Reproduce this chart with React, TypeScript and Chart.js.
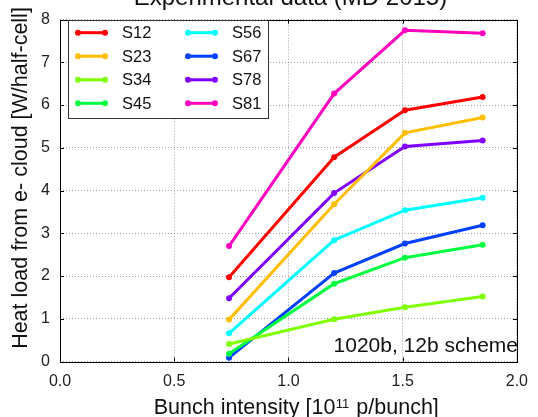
import React, { useEffect, useRef } from "react";
import { Chart, registerables } from "chart.js";

Chart.register(...registerables);

// ---- data ----
const intensities = [0.74, 1.2, 1.51, 1.85];
const sectorNames = ["S12", "S23", "S34", "S45", "S56", "S67", "S78", "S81"];
const s12 = [1.97, 4.78, 5.88, 6.19];
const s23 = [0.98, 3.68, 5.35, 5.71];
const s34 = [0.41, 0.99, 1.27, 1.52];
const s45 = [0.18, 1.82, 2.43, 2.73];
const s56 = [0.66, 2.84, 3.54, 3.83];
const s67 = [0.09, 2.07, 2.76, 3.19];
const s78 = [1.48, 3.94, 5.03, 5.17];
const s81 = [2.7, 6.27, 7.75, 7.68];
const sectorValues = [s12, s23, s34, s45, s56, s67, s78, s81];
const sectorColors = ["#ff0000", "#ffbf00", "#80ff00", "#00ff40", "#00ffff", "#0040ff", "#8000ff", "#ff00bf"];

const titleText = "Experimental data (MD 2015)";
const yTitle = "Heat load from e- cloud [W/half-cell]";
const xTitleA = "Bunch intensity [10";
const xTitleSup = "11";
const xTitleB = " p/bunch]";
const noteText = "1020b, 12b scheme";

const FONT = "'Liberation Sans', Arial, Helvetica, sans-serif";

const decorPlugin = {
  id: "decor",
  afterDraw(chart: any) {
    const { ctx, chartArea } = chart;
    const { left, right, top, bottom } = chartArea;
    const xs = chart.scales.x;
    const ys = chart.scales.y;
    ctx.save();
    // frame
    ctx.strokeStyle = "#000";
    ctx.lineWidth = 1;
    ctx.strokeRect(Math.round(left) + 0.5, Math.round(top) + 0.5, Math.round(right - left), Math.round(bottom - top));
    // inward ticks
    ctx.beginPath();
    [0.5, 1, 1.5].forEach((v) => {
      const px = Math.round(xs.getPixelForValue(v)) + 0.5;
      ctx.moveTo(px, bottom);
      ctx.lineTo(px, bottom - 4);
      ctx.moveTo(px, top);
      ctx.lineTo(px, top + 4);
    });
    [1, 2, 3, 4, 5, 6, 7].forEach((v) => {
      const py = Math.round(ys.getPixelForValue(v)) + 0.5;
      ctx.moveTo(left, py);
      ctx.lineTo(left + 4, py);
      ctx.moveTo(right, py);
      ctx.lineTo(right - 4, py);
    });
    ctx.stroke();

    // legend
    const lx = 68, ly = 20, lw = 200, lh = 98;
    ctx.fillStyle = "#fff";
    ctx.fillRect(lx, ly, lw, lh);
    ctx.strokeStyle = "#333";
    ctx.strokeRect(lx + 0.5, ly + 0.5, lw, lh);
    const rowsY = [32.7, 56.2, 79.8, 103.3];
    const colX = [78, 188];
    ctx.font = `16.5px ${FONT}`;
    ctx.textBaseline = "middle";
    ctx.textAlign = "left";
    sectorNames.forEach((name, i) => {
      const col = Math.floor(i / 4);
      const row = i % 4;
      const x0 = colX[col];
      const y = rowsY[row];
      ctx.strokeStyle = sectorColors[i];
      ctx.lineWidth = 3;
      ctx.beginPath();
      ctx.moveTo(x0, y);
      ctx.lineTo(x0 + 27, y);
      ctx.stroke();
      ctx.fillStyle = sectorColors[i];
      [x0, x0 + 27].forEach((cx) => {
        ctx.beginPath();
        ctx.arc(cx, y, 3, 0, Math.PI * 2);
        ctx.fill();
      });
      ctx.fillStyle = "#111";
      ctx.fillText(name, x0 + 44, y + 1);
    });

    // annotation
    ctx.font = `21px ${FONT}`;
    ctx.textAlign = "right";
    ctx.textBaseline = "alphabetic";
    ctx.fillStyle = "#111";
    ctx.fillText(noteText, 518, 352);

    // title (clipped at top)
    ctx.font = `24px ${FONT}`;
    ctx.textAlign = "center";
    ctx.fillText(titleText, (left + right) / 2 + 2, 4.5);

    // y title
    ctx.save();
    ctx.translate(26.5, 178);
    ctx.rotate(-Math.PI / 2);
    ctx.font = `21.5px ${FONT}`;
    ctx.textAlign = "center";
    ctx.textBaseline = "alphabetic";
    ctx.fillText(yTitle, 0, 0);
    ctx.restore();

    // x title with superscript
    const mainFont = `21.5px ${FONT}`;
    const supFont = `13px ${FONT}`;
    ctx.font = mainFont;
    const wA = ctx.measureText(xTitleA).width;
    const wB = ctx.measureText(xTitleB).width;
    ctx.font = supFont;
    const wS = ctx.measureText(xTitleSup).width + 1;
    const total = wA + wS + wB;
    let cx = 296 - total / 2;
    const base = 413.5;
    ctx.textAlign = "left";
    ctx.textBaseline = "alphabetic";
    ctx.font = mainFont;
    ctx.fillText(xTitleA, cx, base);
    cx += wA + 0.5;
    ctx.font = supFont;
    ctx.fillText(xTitleSup, cx, base - 6);
    cx += wS;
    ctx.font = mainFont;
    ctx.fillText(xTitleB, cx, base);
    ctx.restore();
  },
};

export default function App() {
  const ref = useRef<HTMLCanvasElement | null>(null);
  useEffect(() => {
    if (!ref.current) return;
    const chart = new Chart(ref.current, {
      type: "line",
      data: {
        datasets: sectorNames.map((name, i) => ({
          label: name,
          data: intensities.map((x, j) => ({ x, y: sectorValues[i][j] })),
          borderColor: sectorColors[i],
          backgroundColor: sectorColors[i],
          borderWidth: 3,
          pointRadius: 3,
          pointBorderWidth: 0,
          pointBackgroundColor: sectorColors[i],
          tension: 0,
          fill: false,
        })),
      },
      options: {
        responsive: false,
        animation: false,
        events: [],
        layout: { padding: { top: 12, right: 14, left: 0, bottom: 0 } },
        plugins: {
          legend: { display: false },
          tooltip: { enabled: false },
          title: { display: false },
        },
        scales: {
          x: {
            type: "linear",
            min: 0,
            max: 2,
            afterFit: (s: any) => {
              s.height = 55.5;
            },
            ticks: {
              stepSize: 0.5,
              padding: 10,
              color: "#222",
              font: { family: FONT, size: 16 },
              callback: (v: any) => Number(v).toFixed(1),
              maxRotation: 0,
            },
            grid: { color: "#a0a0a0", lineWidth: 1, drawTicks: false },
            border: { display: false, dash: [1, 2] },
          },
          y: {
            type: "linear",
            min: 0,
            max: 8,
            afterFit: (s: any) => {
              s.width = 60;
            },
            ticks: {
              stepSize: 1,
              padding: 10,
              color: "#222",
              font: { family: FONT, size: 16 },
            },
            grid: { color: "#a0a0a0", lineWidth: 1, drawTicks: false },
            border: { display: false, dash: [1, 2] },
          },
        },
      },
      plugins: [decorPlugin],
    });
    return () => chart.destroy();
  }, []);
  return (
    <div style={{ position: "absolute", left: 0, top: 0, width: 538, height: 417, background: "#fff" }}>
      <canvas ref={ref} width={538} height={417} style={{ display: "block" }} />
    </div>
  );
}
